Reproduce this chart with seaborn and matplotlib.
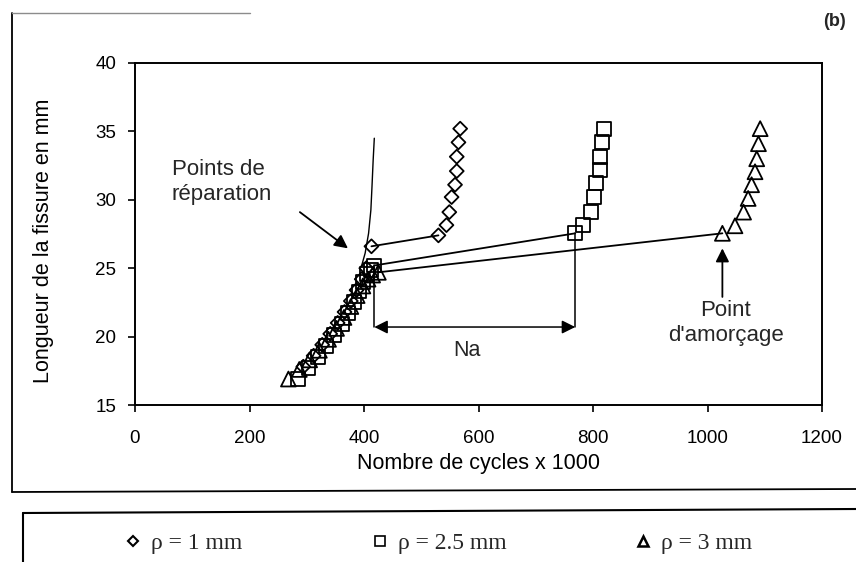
import matplotlib
matplotlib.use("Agg")
import matplotlib.pyplot as plt
import seaborn as sns
from matplotlib.lines import Line2D

# rho = 1 mm (diamonds); index of the repair point
cycles_1 = [294, 312, 327, 341, 354, 366, 377, 387, 396, 404, 413,
            530, 544, 549, 553, 559, 562, 562, 565, 568]
length_1 = [17.8, 18.6, 19.4, 20.2, 21.0, 21.8, 22.6, 23.4, 24.2, 25.0, 26.6,
            27.4, 28.15, 29.1, 30.2, 31.1, 32.1, 33.15, 34.2, 35.2]
repair_1 = 10

# rho = 2.5 mm (squares)
cycles_25 = [285, 303, 319, 334, 348, 361, 372, 382, 391, 399, 406, 412, 418,
             769, 783, 796, 802, 806, 812, 813, 816, 819]
length_25 = [16.9, 17.7, 18.5, 19.3, 20.1, 20.9, 21.7, 22.5, 23.3, 24.0, 24.6, 24.9, 25.2,
             27.55, 28.15, 29.1, 30.2, 31.2, 32.2, 33.15, 34.2, 35.2]
repair_25 = 12

# rho = 3 mm (triangles)
cycles_3 = [268, 287, 305, 322, 338, 352, 365, 377, 388, 398, 407, 415, 425,
            1026, 1048, 1063, 1071, 1077, 1083, 1086, 1089, 1092]
length_3 = [16.9, 17.6, 18.3, 19.0, 19.8, 20.6, 21.4, 22.2, 23.0, 23.7, 24.2, 24.5, 24.7,
            27.55, 28.1, 29.1, 30.1, 31.1, 32.05, 33.0, 34.1, 35.2]
repair_3 = 12

# envelope through the repair points
curve_x = [396, 402, 408, 412, 414, 416, 418]
curve_y = [25.2, 26.1, 27.55, 29.25, 31.0, 32.9, 34.5]

na_y = 20.7

sns.set_style("white")
plt.rcParams['font.family'] = ['Liberation Sans', 'DejaVu Sans']

W, H = 856, 562
fig = plt.figure(figsize=(W / 100, H / 100), dpi=100)
ax = fig.add_axes([135 / W, 1 - 405 / H, 687 / W, 342 / H])


def fx(px):
    return px / W


def fy(py):
    return 1 - py / H


series = [
    (cycles_1, length_1, repair_1, 'D', 50),
    (cycles_25, length_25, repair_25, 's', 100),
    (cycles_3, length_3, repair_3, '^', 115),
]

for xs, ys, r, mk, size in series:
    # jump from repair point to re-initiation point
    ax.plot(xs[r:r + 2], ys[r:r + 2], color='black', lw=1.3, zorder=2)
    sns.scatterplot(x=xs, y=ys, marker=mk, s=size, color='black',
                    facecolor='none', edgecolor='black', linewidth=1.3,
                    ax=ax, zorder=3, legend=False)

ax.plot(curve_x, curve_y, color='black', lw=1.0)

# Na bracket between square repair and re-initiation
na_left = cycles_25[repair_25]
na_right = cycles_25[repair_25 + 1]
ax.plot([na_left, na_left], [length_25[repair_25], na_y], color='black', lw=1.1)
ax.plot([na_right, na_right], [length_25[repair_25 + 1], na_y], color='black', lw=1.1)
ax.annotate('', xy=(na_left, na_y), xytext=(na_right, na_y),
            arrowprops=dict(arrowstyle='<|-|>', color='black', lw=1.1,
                            mutation_scale=20, shrinkA=0, shrinkB=0))
ax.text(579, 19.0, "Na", fontsize=15.5, ha='center', va='center')

ax.text(64, 31.3, "Points de\nréparation", fontsize=16, ha='left', va='center',
        linespacing=1.3)
ax.annotate('', xy=(372, 26.45), xytext=(288, 29.1),
            arrowprops=dict(arrowstyle='-|>', color='black', lw=1.3,
                            mutation_scale=20, shrinkA=0, shrinkB=0))

ax.text(1032, 21.0, "Point\nd'amorçage", fontsize=16, ha='center', va='center',
        linespacing=1.3)
ax.annotate('', xy=(1026, 26.45), xytext=(1026, 22.9),
            arrowprops=dict(arrowstyle='-|>', color='black', lw=1.3,
                            mutation_scale=20, shrinkA=0, shrinkB=0))

ax.set_xlim(0, 1200)
ax.set_ylim(15, 40)
ax.set_xticks(range(0, 1201, 200))
ax.set_yticks(range(15, 41, 5))
ax.tick_params(direction='out', length=5, width=1.2, labelsize=13.5,
               colors='black', bottom=True, left=True)
ax.tick_params(axis='x', pad=13)
ax.tick_params(axis='y', pad=8.5)
for sp in ax.spines.values():
    sp.set_color('black')
    sp.set_linewidth(1.4)

ax.set_xlabel("Nombre de cycles x 1000", fontsize=15.5, color='black')
ax.set_ylabel("Longueur de la fissure en mm", fontsize=15.5, color='black')
ax.xaxis.set_label_coords(0.5, -(453 - 405) / 342)
ax.yaxis.set_label_coords(-(135 - 54) / 687, 0.48)

fig.text(fx(835), fy(22), "(b)", fontsize=13, fontweight='bold',
         ha='center', va='center')

# outer frame of the figure panel
fig.add_artist(Line2D([fx(12), fx(12)], [fy(13), fy(492)], color='black', lw=1.3))
fig.add_artist(Line2D([fx(12), fx(856)], [fy(492), fy(489)], color='black', lw=1.3))
fig.add_artist(Line2D([fx(12), fx(250)], [fy(13), fy(13)], color='0.55', lw=1.0))

# legend box
fig.add_artist(Line2D([fx(23), fx(23)], [fy(513), fy(562)], color='black', lw=1.5))
fig.add_artist(Line2D([fx(23), fx(856)], [fy(513), fy(509)], color='black', lw=1.5))

handles = [
    Line2D([], [], marker='D', ls='', markersize=5.5, markerfacecolor='none',
           markeredgecolor='black', markeredgewidth=1.5),
    Line2D([], [], marker='s', ls='', markersize=7, markerfacecolor='none',
           markeredgecolor='black', markeredgewidth=1.2),
    Line2D([], [], marker='^', ls='', markersize=7, markerfacecolor='none',
           markeredgecolor='black', markeredgewidth=1.8),
]
labels = ["ρ = 1 mm", "ρ = 2.5 mm", "ρ = 3 mm"]
fig.legend(handles, labels, loc='center', bbox_to_anchor=(fx(437), fy(543)),
           ncol=3, frameon=False, columnspacing=5.3, handletextpad=0.27,
           handlelength=1.0, prop={'family': ['Liberation Serif', 'DejaVu Serif'],
                                   'size': 17})

fig.savefig("out.png", dpi=100, facecolor='white')
